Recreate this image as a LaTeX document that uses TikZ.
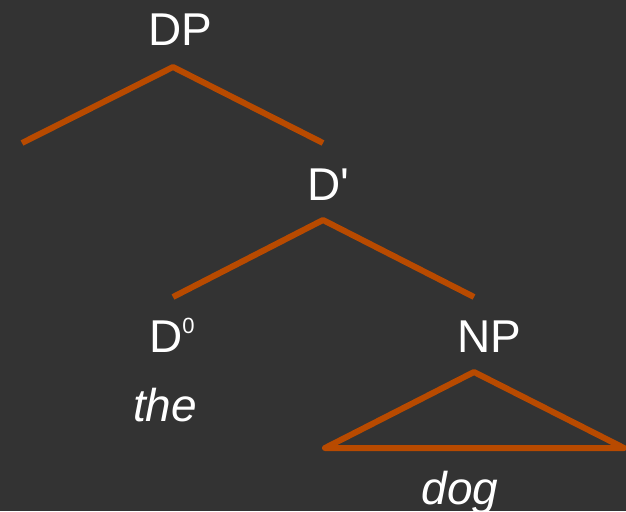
\documentclass[tikz,border=0pt]{standalone}
\usepackage{fontspec}
\setmainfont{Liberation Sans}
\definecolor{board}{HTML}{333333}
\definecolor{branch}{HTML}{B84A00}
\tikzset{
  limb/.style={draw=branch, line width=6pt},
  cat/.style={text=white, font=\fontsize{46}{50}\selectfont, inner sep=0pt, anchor=base},
}
\begin{document}
\begin{tikzpicture}[x=1pt, y=-1pt, line join=round]
% background
\fill[board] (0,0) rectangle (626,511);
\useasboundingbox (0,0) rectangle (626,511);
% labels
\node[cat] (dp) at (180,46) {DP};
\node[cat] (dbar) at (328,200) {D\textquotesingle};
\node[cat] (dzero) at (172,352) {D\raisebox{19pt}{\fontsize{22}{22}\selectfont 0}};
\node[cat] (np) at (489,352) {NP};
\node[cat, font=\fontsize{46}{50}\selectfont\itshape] (the) at (165,421) {the};
\node[cat, font=\fontsize{46}{50}\selectfont\itshape] (dog) at (460,504) {dog};
% branch points
\coordinate (dptop) at (173,67);
\coordinate (spec) at (22,143);
\coordinate (dbarend) at (323,143);
\coordinate (dbartop) at (323,220);
\coordinate (dzeroend) at (173,297);
\coordinate (npend) at (474,297);
\coordinate (nptop) at (474,372);
\coordinate (npleft) at (325,448);
\coordinate (npright) at (624,448);
% branches
\draw[limb] (spec) -- (dptop) -- (dbarend);
\draw[limb] (dzeroend) -- (dbartop) -- (npend);
\draw[limb] (npleft) -- (nptop) -- (npright) -- cycle;
\end{tikzpicture}
\end{document}
